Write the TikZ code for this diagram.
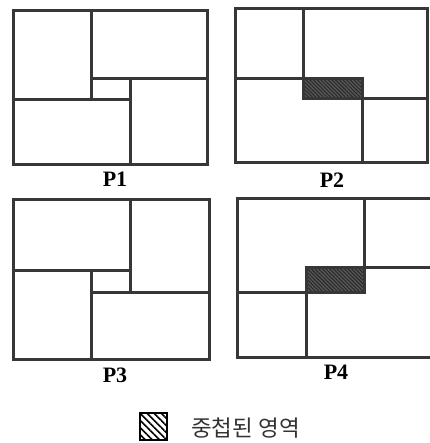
\documentclass[tikz,border=0pt]{standalone}
\usepackage{fontspec}
\setmainfont{Liberation Serif}
\newfontfamily\kofont{Noto Sans CJK KR}
\usetikzlibrary{patterns.meta}
\definecolor{lineink}{RGB}{55,55,55}
\definecolor{overlapgray}{RGB}{85,85,85}

\begin{document}
\begin{tikzpicture}[x=1pt, y=-1pt,
  region/.style={draw=lineink, line width=3pt},
  frame/.style={draw=lineink, line width=3pt},
  overlap/.style={fill=overlapgray, pattern={Lines[angle=-45,distance=2.6pt,line width=0.9pt]}, pattern color=black!85},
  caption/.style={font=\fontsize{22}{24}\selectfont\bfseries, inner sep=0pt},
  legendbox/.style={draw=black, line width=1.6pt, fill=white},
  legendtext/.style={font=\kofont\fontsize{22.5}{24}\selectfont, text=black!80, inner sep=0pt, anchor=west}
]
\useasboundingbox (0,0) rectangle (429,443);
% P1
\draw[region] (13,11) rectangle (91,100);
\draw[region] (91,11) rectangle (207,79);
\draw[region] (130,79) rectangle (207,165);
\draw[region] (13,100) rectangle (130,165);
\draw[frame] (13,11) rectangle (207,165);
\node[caption] (capone) at (115,179) {P1};
% P2
\fill[overlapgray] (303,79) rectangle (362,99);
\fill[overlap] (303,79) rectangle (362,99);
\draw[region] (235,9) rectangle (303,79);
\draw[region] (303,9) rectangle (427,99);
\draw[region] (362,99) rectangle (427,163);
\draw[region] (235,79) rectangle (362,163);
\draw[frame] (235,9) rectangle (427,163);
\node[caption] (captwo) at (332,180) {P2};
% P3
\draw[region] (13,200) rectangle (130,270);
\draw[region] (130,200) rectangle (209,292);
\draw[region] (91,292) rectangle (209,359);
\draw[region] (13,270) rectangle (91,359);
\draw[frame] (13,200) rectangle (209,359);
\node[caption] (capthree) at (115,375) {P3};
% P4 (right edge runs off the page)
\fill[overlapgray] (306,267) rectangle (364,292);
\fill[overlap] (306,267) rectangle (364,292);
\draw[region] (237,199) rectangle (364,292);
\draw[region] (364,199) rectangle (438,267);
\draw[region] (306,267) rectangle (438,357);
\draw[region] (237,292) rectangle (306,357);
\draw[frame] (237,199) rectangle (438,357);
\node[caption] (capfour) at (336,372) {P4};
% legend
\filldraw[legendbox] (140,413) rectangle (167,440);
\fill[pattern={Lines[angle=-45,distance=5pt,line width=1.6pt]}, pattern color=black] (140,413) rectangle (167,440);
\draw[black, line width=1.6pt] (140,413) rectangle (167,440);
\node[legendtext] (legendlabel) at (191,428) {중첩된 영역};
\end{tikzpicture}
\end{document}
